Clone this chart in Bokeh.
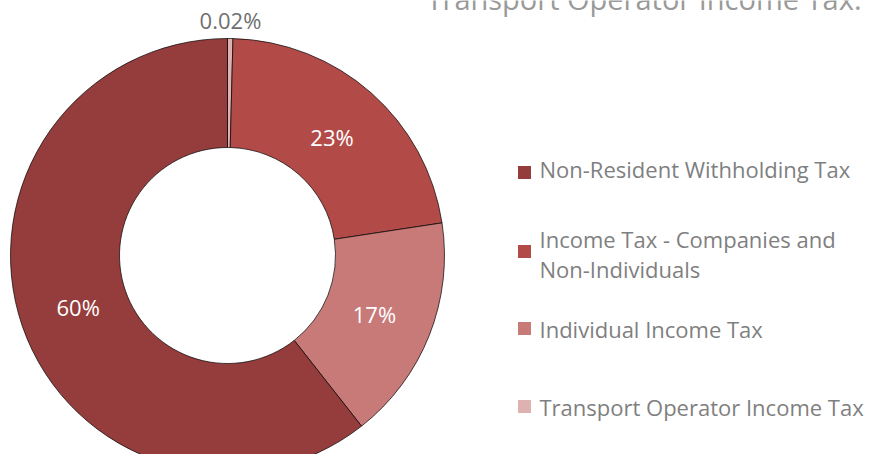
import math
from bokeh.plotting import figure
from bokeh.models import Range1d, ColumnDataSource
from bokeh.core.properties import value
from bokeh.embed import file_html
from bokeh.resources import INLINE

# ---- data (clockwise from 12 o'clock) ----
categories = ["Transport Operator Income Tax",
              "Income Tax - Companies and\nNon-Individuals",
              "Individual Income Tax",
              "Non-Resident Withholding Tax"]
shares = [0.4, 22.2, 16.8, 60.6]
share_labels = ["0.02%", "23%", "17%", "60%"]
colors = ["#dfb2b2", "#b24b48", "#c87a79", "#953d3c"]

legend_order = ["Non-Resident Withholding Tax",
                "Income Tax - Companies and\nNon-Individuals",
                "Individual Income Tax",
                "Transport Operator Income Tax"]
title_text = "Transport Operator Income Tax."

W, H = 864, 454
FONT = "Open Sans"

p = figure(width=W, height=H, output_backend="svg", toolbar_location=None,
           x_range=Range1d(0, W), y_range=Range1d(0, H), min_border=0)
p.axis.visible = False
p.grid.visible = False
p.outline_line_color = None

cx, cy = 227, H - 255
r_in, r_out = 108, 217

total = sum(shares)
starts, ends, mids = [], [], []
cum = 0.0
for s in shares:
    a0 = math.pi / 2 - 2 * math.pi * cum / total
    cum += s
    a1 = math.pi / 2 - 2 * math.pi * cum / total
    starts.append(a0)
    ends.append(a1)
    mids.append((a0 + a1) / 2)

src = ColumnDataSource(dict(x=[cx] * 4, y=[cy] * 4, start=starts, end=ends,
                            color=colors))
p.annular_wedge(x="x", y="y", inner_radius=r_in, outer_radius=r_out,
                start_angle="start", end_angle="end", direction="clock",
                fill_color="color", line_color="#000000", line_width=0.7,
                source=src)

# labels
lx, ly, lc, lt = [], [], [], []
for i, m in enumerate(mids):
    if shares[i] < 2:
        rr = 236
        lc.append("#6f6f6f")
    else:
        rr = 158
        lc.append("#ffffff")
    lx.append(cx + rr * math.cos(m))
    ly.append(cy + rr * math.sin(m))
    lt.append(share_labels[i])
p.text(x=lx, y=ly, text=lt, text_color=lc, text_align="center",
       text_baseline="middle", text_font=value(FONT), text_font_size="22px")

# legend
leg_y_sq = [172, 251, 328, 406]
leg_y_tx = [168, 253, 328, 406]
sq_x = 524
for name, ysq, ytx in zip(legend_order, leg_y_sq, leg_y_tx):
    col = colors[categories.index(name)]
    p.scatter(x=[sq_x], y=[H - ysq], marker="square", size=13,
              fill_color=col, line_color=None)
    p.text(x=[sq_x + 15], y=[H - ytx], text=[name],
           text_color="#7f7f7f", text_align="left", text_baseline="middle",
           text_font=value(FONT), text_font_size="22px",
           text_line_height=1.0)

# cut-off title at top
p.text(x=[861], y=[H + 2], text=[title_text], text_color="#9a9a9a",
       text_align="right", text_baseline="alphabetic",
       text_font=value(FONT), text_font_size="29px")

open("out.html", "w").write(file_html(p, INLINE))
